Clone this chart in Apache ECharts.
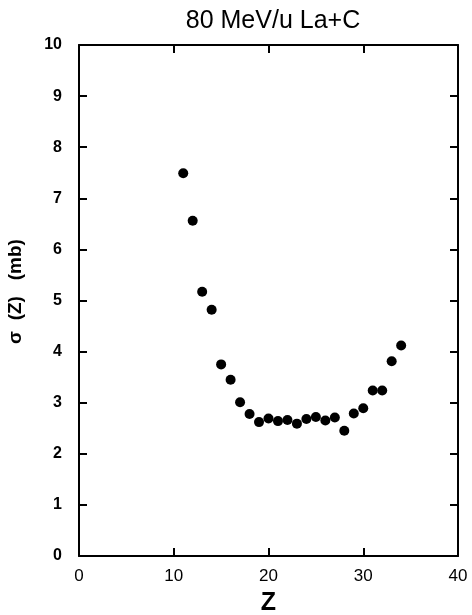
<!DOCTYPE html>
<html>
<head>
<meta charset="utf-8">
<script src="https://cdn.jsdelivr.net/npm/echarts@6/dist/echarts.min.js"></script>
<style>
  html, body { margin: 0; padding: 0; background: #fff; }
  #chart { width: 472px; height: 615px; }
</style>
</head>
<body>
<div id="chart"></div>
<script>
// fragment charge Z and cross section sigma(Z) in mb
var zValues = [11, 12, 13, 14, 15, 16, 17, 18, 19, 20, 21, 22, 23, 24, 25, 26, 27, 28, 29, 30, 31, 32, 33, 34];
var sigmaValues = [7.49, 6.56, 5.17, 4.82, 3.75, 3.45, 3.01, 2.78, 2.62, 2.69, 2.64, 2.66, 2.59, 2.68, 2.72, 2.65, 2.71, 2.45, 2.79, 2.89, 3.24, 3.24, 3.81, 4.12];
var xTicks = [0, 10, 20, 30, 40];
var yTicks = [0, 1, 2, 3, 4, 5, 6, 7, 8, 9, 10];

window.onload = function() {
	drawChart();
}

function drawChart() {
	var myChart = echarts.init(document.getElementById('chart'));
	var font = 'Liberation Sans, Arial, sans-serif';

	var data = [];
	for (var i = 0; i < zValues.length; i++) {
		data.push([zValues[i], sigmaValues[i]]);
	}

	var axisBase = {
		type: 'value',
		splitLine: { show: false },
		axisLine: { show: true, onZero: false, lineStyle: { color: '#000', width: 2 } },
		axisTick: { show: true, inside: true, length: 8, lineStyle: { color: '#000', width: 2 } }
	};

	option = {
		backgroundColor: '#fff',
		animation: false,
		title: {
			text: '80 MeV/u La+C',
			left: 268,
			textAlign: 'center',
			top: 4,
			textStyle: { fontFamily: font, fontSize: 25, fontWeight: 'normal', color: '#000' }
		},
		grid: { left: 79, right: 14, top: 45, bottom: 59, outerBoundsMode: 'none', containLabel: false },
		xAxis: [
			Object.assign({}, axisBase, {
				min: xTicks[0], max: xTicks[xTicks.length - 1], interval: 10,
				position: 'bottom',
				name: 'Z',
				nameLocation: 'middle',
				nameGap: 35,
				nameTextStyle: { fontFamily: font, fontSize: 25, fontWeight: 'bold', color: '#000' },
				axisLabel: { margin: 12, fontFamily: font, fontSize: 17, color: '#000' }
			}),
			Object.assign({}, axisBase, {
				min: xTicks[0], max: xTicks[xTicks.length - 1], interval: 10,
				position: 'top',
				axisLabel: { show: false }
			})
		],
		yAxis: [
			Object.assign({}, axisBase, {
				min: yTicks[0], max: yTicks[yTicks.length - 1], interval: 1,
				position: 'left',
				name: 'σ  (Z)   (mb)',
				nameLocation: 'middle',
				nameRotate: 90,
				nameGap: 54,
				nameTextStyle: { fontFamily: font, fontSize: 19, fontWeight: 'bold', color: '#000', padding: [0, 0, 0, 18] },
				axisLabel: { margin: 17, fontFamily: font, fontSize: 16, fontWeight: 'bold', color: '#000' }
			}),
			Object.assign({}, axisBase, {
				min: yTicks[0], max: yTicks[yTicks.length - 1], interval: 1,
				position: 'right',
				axisLabel: { show: false }
			})
		],
		series: [{
			type: 'scatter',
			data: data,
			symbol: 'circle',
			symbolSize: 10,
			itemStyle: { color: '#000', opacity: 1 }
		}]
	};

	myChart.setOption(option);
}
</script>
</body>
</html>
